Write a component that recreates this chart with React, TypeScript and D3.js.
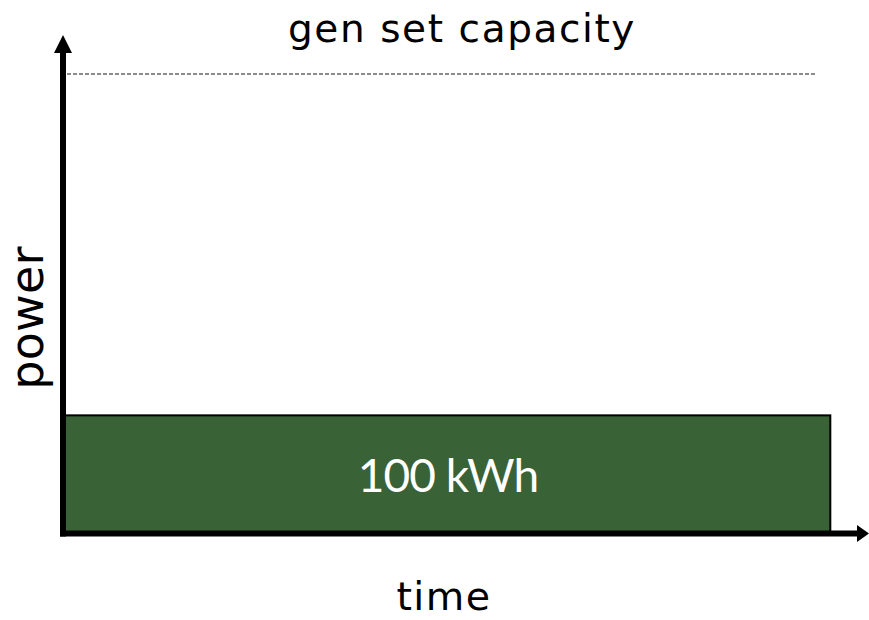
import React from "react";
import * as d3 from "d3";

const W = 869;
const H = 620;

// conceptual values (0-100 scale)
const loadLabel = ["100 kWh"];
const loadPower = [23.7];
const loadDuration = [95.2];
const capacityLabel = ["gen set capacity"];
const capacityPower = [92.2];
const capacityEnd = [93.4];
const xAxisLabel = "time";
const yAxisLabel = "power";

export default function App() {
  const x = d3.scaleLinear().domain([0, 100]).range([63, 869]);
  const y = d3.scaleLinear().domain([0, 100]).range([533.5, 35]);
  const lato = "Lato, 'Open Sans', sans-serif";
  const dejavu = "'DejaVu Sans', Verdana, sans-serif";

  const yArrowBase = y(100) + 18;
  const xArrowBase = x(100) - 12;

  return (
    <svg width={W} height={H} style={{ position: "absolute", left: 0, top: 0 }}>
      <rect width={W} height={H} fill="#fff" />
      {/* load block */}
      {loadPower.map((p, i) => (
        <g key={i}>
          <rect
            x={x(0)}
            y={y(p)}
            width={x(loadDuration[i]) - x(0)}
            height={y(0) - y(p)}
            fill="#3A6237"
            stroke="#000"
            strokeWidth={2}
          />
          <text
            x={448}
            y={492}
            fill="#fff"
            fontFamily={lato}
            fontSize={46}
            letterSpacing={-1}
            textAnchor="middle"
          >
            {loadLabel[i]}
          </text>
        </g>
      ))}
      {/* capacity line */}
      {capacityPower.map((c, i) => (
        <line
          key={i}
          x1={x(0) + 4}
          x2={x(capacityEnd[i])}
          y1={y(c)}
          y2={y(c)}
          stroke="#666"
          strokeWidth={1.5}
          strokeDasharray="4 2"
        />
      ))}
      {/* axes */}
      <line x1={x(0)} x2={x(0)} y1={y(0) + 3} y2={yArrowBase} stroke="#000" strokeWidth={6} />
      <path
        d={`M${x(0)},${y(100)} L${x(0) - 9},${yArrowBase} L${x(0) + 9},${yArrowBase} Z`}
        fill="#000"
      />
      <line x1={x(0) - 3} x2={xArrowBase} y1={y(0)} y2={y(0)} stroke="#000" strokeWidth={6} />
      <path
        d={`M${x(100)},${y(0)} L${xArrowBase},${y(0) - 8.5} L${xArrowBase},${y(0) + 8.5} Z`}
        fill="#000"
      />
      {/* labels */}
      <text
        x={462}
        y={42}
        fontFamily={dejavu}
        fontSize={39}
        letterSpacing={1.6}
        textAnchor="middle"
        fill="#000"
      >
        {capacityLabel[0]}
      </text>
      <text
        x={444}
        y={610}
        fontFamily={dejavu}
        fontSize={39.5}
        letterSpacing={1.5}
        textAnchor="middle"
        fill="#000"
      >
        {xAxisLabel}
      </text>
      <text
        transform="translate(43,318) rotate(-90)"
        fontFamily={dejavu}
        fontSize={46}
        letterSpacing={0.3}
        textAnchor="middle"
        fill="#000"
      >
        {yAxisLabel}
      </text>
    </svg>
  );
}
